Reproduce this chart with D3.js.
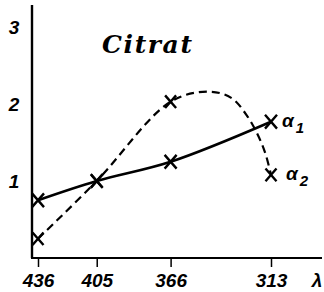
<!DOCTYPE html>
<html>
<head>
<meta charset="utf-8">
<script src="https://cdn.jsdelivr.net/npm/d3@7"></script>
<style>
  body { margin: 0; background: #fff; }
  svg { display: block; }
  .num { font-family: "Liberation Sans", Arial, sans-serif; font-style: italic; font-weight: bold; font-size: 19px; fill: #000; }
</style>
</head>
<body>
<script>
// wavelengths (nm) and measured rotations
const wavelengths = [436, 405, 366, 313];
const alpha1 = [0.75, 1.0, 1.25, 1.77];
const alpha2 = [0.25, 1.0, 2.03, 1.08];
// the hand drawn dashed trend for alpha2
const alpha2TraceL = [436, 405, 366, 346, 334, 326, 320, 316, 313];
const alpha2TraceV = [0.25, 1.0, 2.03, 2.16, 2.08, 1.86, 1.6, 1.36, 1.08];
const yTicks = [1, 2, 3];
const title = "Citrat";

const width = 324, height = 292;

const svg = d3.select("body").append("svg")
  .attr("width", width)
  .attr("height", height);

const x = d3.scaleLinear().domain([436, 313]).range([38, 271]);
const y = d3.scaleLinear().domain([0, 3]).range([258, 27]);

// axes lines (drawn by hand like the original)
svg.append("line")
  .attr("x1", 32).attr("x2", 32).attr("y1", 5).attr("y2", y(0))
  .attr("stroke", "#000").attr("stroke-width", 2.4);
svg.append("line")
  .attr("x1", 31).attr("x2", 322).attr("y1", y(0)).attr("y2", y(0))
  .attr("stroke", "#000").attr("stroke-width", 2.2);

// x ticks
const gx = svg.append("g")
  .attr("transform", `translate(0,${y(0)})`)
  .call(d3.axisBottom(x).tickValues(wavelengths).tickSize(9).tickSizeOuter(0).tickPadding(6).tickFormat(d => d));
gx.select(".domain").remove();
gx.selectAll(".tick line").attr("stroke-width", 1.5);
gx.selectAll("text").attr("class", "num").attr("font-size", null).attr("font-family", null).attr("dy", "0.75em");

// y labels
const gy = svg.append("g")
  .attr("transform", "translate(32,0)")
  .call(d3.axisLeft(y).tickValues(yTicks).tickSize(0).tickPadding(0).tickFormat(d => d));
gy.select(".domain").remove();
gy.selectAll("text").attr("class", "num").attr("font-size", null).attr("font-family", null)
  .attr("text-anchor", "middle").attr("x", -18);

// lambda
svg.append("text").attr("class", "num")
  .attr("x", 317).attr("y", 287).attr("text-anchor", "middle")
  .attr("font-size", 21)
  .text("λ");

// title
svg.append("text")
  .attr("x", 102).attr("y", 53)
  .attr("font-family", "DejaVu Serif, serif")
  .attr("font-style", "italic").attr("font-weight", "bold")
  .attr("font-size", 25)
  .attr("textLength", 90).attr("lengthAdjust", "spacing")
  .text(title);

// curves
const line = d3.line().curve(d3.curveCatmullRom.alpha(0.5))
  .x(d => x(d[0])).y(d => y(d[1]));

svg.append("path")
  .datum(wavelengths.map((w, i) => [w, alpha1[i]]))
  .attr("d", line)
  .attr("fill", "none").attr("stroke", "#000").attr("stroke-width", 2.6);

svg.append("path")
  .datum(alpha2TraceL.map((w, i) => [w, alpha2TraceV[i]]))
  .attr("d", line)
  .attr("fill", "none").attr("stroke", "#000").attr("stroke-width", 2.2)
  .attr("stroke-dasharray", "8,5");

// cross markers
const cross = s => `M${-s},${-s * 1.15}L${s},${s * 1.15}M${-s},${s * 1.15}L${s},${-s * 1.15}`;
function markers(vals, s) {
  svg.append("g").selectAll("path")
    .data(wavelengths.map((w, i) => [w, vals[i]]))
    .join("path")
    .attr("transform", d => `translate(${x(d[0])},${y(d[1])})`)
    .attr("d", cross(s))
    .attr("fill", "none").attr("stroke", "#000").attr("stroke-width", 2.4);
}
markers(alpha1, 6);
markers(alpha2, 5.5);

// series labels
function seriesLabel(vals, sub, dx, dy) {
  const t = svg.append("text").attr("class", "num")
    .attr("x", x(313) + dx).attr("y", y(vals[3]) + dy)
    .attr("font-size", 22);
  t.append("tspan").text("α");
  t.append("tspan").attr("font-size", 15).attr("dy", 6).attr("dx", 2).text(sub);
}
seriesLabel(alpha1, "1", 11, 5);
seriesLabel(alpha2, "2", 15, 5);
</script>
</body>
</html>
